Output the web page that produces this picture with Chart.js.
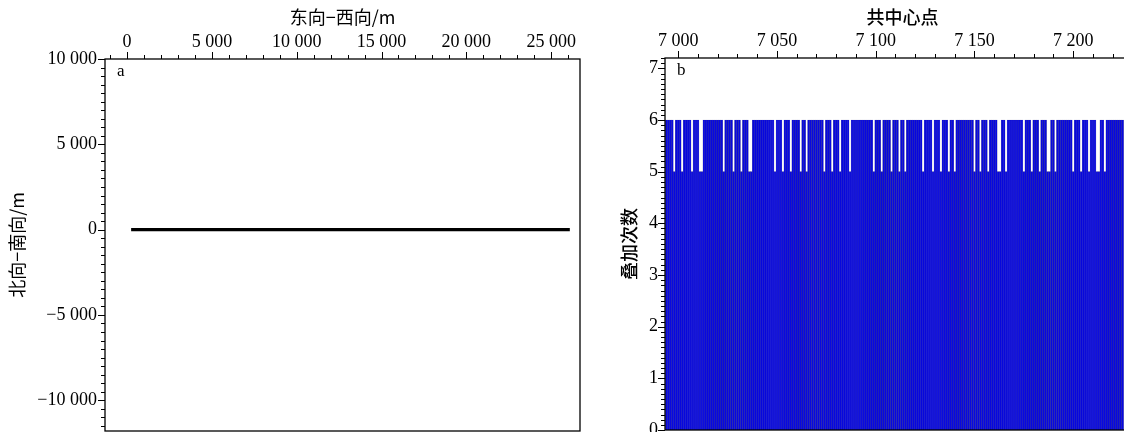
<!DOCTYPE html>
<html>
<head>
<meta charset="utf-8">
<script src="https://cdn.jsdelivr.net/npm/chart.js@4.4.1/dist/chart.umd.min.js"></script>
<style>
  html, body { margin: 0; padding: 0; background: #fff; overflow: hidden; }
  body { width: 1124px; height: 432px; position: relative; }
  .panel { position: absolute; top: 0; height: 432px; }
  #wrapA { left: 0; width: 600px; }
  #wrapB { left: 590px; width: 560px; }
</style>
</head>
<body>
<div class="panel" id="wrapA"><canvas id="chartA" width="600" height="432"></canvas></div>
<div class="panel" id="wrapB"><canvas id="chartB" width="560" height="432"></canvas></div>
<script>
// Panel a: survey line in plan view (east-west vs north-south, metres)
const lineEastWest = [240, 26100];
const lineNorthSouth = [0, 0];
const eastWestTicks = [0, 5000, 10000, 15000, 20000, 25000];
const northSouthTicks = [-10000, -5000, 0, 5000, 10000];

// Panel b: fold (stack count) per common midpoint
const firstMidpoint = 6994;
const foldCount = [
  6,6,6,6,5,6,6,6,5,6,
  6,6,6,5,6,6,6,5,5,6,
  6,6,6,6,6,6,6,6,6,5,
  6,6,6,6,5,6,6,6,5,6,
  6,6,5,5,6,6,6,6,6,6,
  6,6,6,6,6,5,6,6,6,5,
  6,6,6,5,6,6,6,6,5,6,
  6,5,6,6,6,6,6,6,6,6,
  5,6,6,6,5,6,6,6,5,6,
  6,6,6,5,6,6,6,6,6,6,
  6,6,6,6,6,5,6,6,6,5,
  6,6,6,6,5,6,6,6,5,6,
  6,5,6,6,6,6,6,6,6,6,
  5,6,6,6,6,5,6,6,6,5,
  6,6,6,5,6,6,5,6,6,6,
  6,6,6,6,6,6,5,6,6,5,
  6,6,6,5,6,6,6,6,5,5,
  6,6,5,6,6,6,6,6,6,6,
  6,5,6,6,6,5,6,6,6,5,
  6,6,6,5,5,6,6,5,6,6,
  6,6,6,6,6,6,5,6,6,6,
  5,6,6,6,5,6,6,6,5,5,
  6,6,5,6,6,6,6,6,6,6,
  6,6
];
const midpointTicks = [7000, 7050, 7100, 7150, 7200];
const foldTicks = [0, 1, 2, 3, 4, 5, 6, 7];

const midpoints = foldCount.map((_, i) => firstMidpoint + i);

const SERIF = "'Liberation Serif', 'Times New Roman', serif";
const CJK = "'Noto Sans CJK SC', 'Liberation Serif', serif";

function fmtNum(v) {
  const s = Math.abs(v).toString().replace(/\B(?=(\d{3})+(?!\d))/g, ' ');
  return (v < 0 ? '\u2212' : '') + s;
}

// Frame, outward major/minor tick marks and the panel letter
const framePlugin = {
  id: 'frame',
  afterDatasetsDraw(chart, args, opts) {
    const { ctx, chartArea: a } = chart;
    const xs = chart.scales.x, ys = chart.scales.y;
    ctx.save();
    ctx.strokeStyle = '#000';
    ctx.lineWidth = 1.3;
    ctx.strokeRect(a.left, a.top, a.right - a.left, a.bottom - a.top);
    ctx.lineWidth = 1;
    ctx.beginPath();
    const eps = 1e-6;
    for (let v = Math.ceil(xs.min / opts.xMinor) * opts.xMinor; v <= xs.max + eps; v += opts.xMinor) {
      const p = Math.round(xs.getPixelForValue(v)) + 0.5;
      const major = Math.abs(v / opts.xMajor - Math.round(v / opts.xMajor)) < 1e-6;
      const len = major ? 7 : 4;
      ctx.moveTo(p, a.top);
      ctx.lineTo(p, a.top - len);
    }
    for (let v = Math.ceil(ys.min / opts.yMinor) * opts.yMinor; v <= ys.max + eps; v += opts.yMinor) {
      const p = Math.round(ys.getPixelForValue(v)) + 0.5;
      const major = Math.abs(v / opts.yMajor - Math.round(v / opts.yMajor)) < 1e-6;
      const len = major ? 7 : 4;
      ctx.moveTo(a.left, p);
      ctx.lineTo(a.left - len, p);
    }
    ctx.stroke();
    ctx.fillStyle = '#000';
    ctx.font = '17px ' + SERIF;
    ctx.textBaseline = 'top';
    ctx.fillText(opts.letter, a.left + 12, a.top + 4);
    ctx.restore();
  }
};

function fixedTicks(list) {
  return function (axis) {
    axis.ticks = list.map(v => ({ value: v }));
  };
}
function fitHeight(h) {
  return function (s) { s.height = h; s.paddingLeft = 0; s.paddingRight = 0; s.paddingTop = 0; s.paddingBottom = 0; };
}
function fitWidth(w) {
  return function (s) { s.width = w; s.paddingLeft = 0; s.paddingRight = 0; s.paddingTop = 0; s.paddingBottom = 0; };
}

const chartA = new Chart(document.getElementById('chartA'), {
  type: 'line',
  data: {
    datasets: [{
      data: lineEastWest.map((x, i) => ({ x, y: lineNorthSouth[i] })),
      borderColor: '#000',
      borderWidth: 3.2,
      pointRadius: 0,
      fill: false
    }]
  },
  options: {
    responsive: false,
    animation: false,
    layout: { padding: { left: 0, right: 20, top: 0, bottom: 1 } },
    plugins: {
      legend: { display: false },
      tooltip: { enabled: false },
      frame: { letter: 'a', xMajor: 5000, xMinor: 1000, yMajor: 5000, yMinor: 500 }
    },
    scales: {
      x: {
        type: 'linear',
        position: 'top',
        min: -1300, max: 26700,
        afterBuildTicks: fixedTicks(eastWestTicks),
        afterFit: fitHeight(59),
        grid: { display: false, drawTicks: false },
        border: { display: false },
        ticks: { callback: fmtNum, color: '#000', padding: 6, maxRotation: 0, autoSkip: false, font: { family: SERIF, size: 18 } },
        title: { display: true, text: '东向−西向/m', color: '#000', padding: { top: 6, bottom: 0 }, font: { family: CJK, size: 18 } }
      },
      y: {
        type: 'linear',
        min: -11800, max: 10000,
        afterBuildTicks: fixedTicks(northSouthTicks),
        afterFit: fitWidth(105),
        grid: { display: false, drawTicks: false },
        border: { display: false },
        ticks: { callback: fmtNum, color: '#000', padding: 8, autoSkip: false, font: { family: SERIF, size: 18 } },
        title: { display: true, text: '北向−南向/m', color: '#000', padding: { top: 6, bottom: 0 }, font: { family: CJK, size: 18 } }
      }
    }
  },
  plugins: [framePlugin]
});

const chartB = new Chart(document.getElementById('chartB'), {
  type: 'bar',
  data: {
    datasets: [{
      data: midpoints.map((x, i) => ({ x, y: foldCount[i] })),
      backgroundColor: '#0808e0',
      borderColor: 'rgba(0,0,100,0.6)',
      borderWidth: 0.45,
      borderSkipped: 'bottom',
      barPercentage: 1,
      categoryPercentage: 1
    }]
  },
  options: {
    responsive: false,
    animation: false,
    layout: { padding: { left: 0, right: 10, top: 0, bottom: 2 } },
    plugins: {
      legend: { display: false },
      tooltip: { enabled: false },
      frame: { letter: 'b', xMajor: 50, xMinor: 10, yMajor: 1, yMinor: 0.1 }
    },
    scales: {
      x: {
        type: 'linear',
        position: 'top',
        offset: false,
        min: 6993.3, max: 7233.8,
        afterBuildTicks: fixedTicks(midpointTicks),
        afterFit: fitHeight(58),
        grid: { display: false, drawTicks: false },
        border: { display: false },
        ticks: { callback: fmtNum, color: '#000', padding: 6, maxRotation: 0, autoSkip: false, font: { family: SERIF, size: 18 } },
        title: { display: true, text: '共中心点', color: '#000', padding: { top: 6, bottom: 0 }, font: { family: CJK, size: 18, weight: '500' } }
      },
      y: {
        type: 'linear',
        min: 0, max: 7.2,
        afterBuildTicks: fixedTicks(foldTicks),
        afterFit: fitWidth(75),
        grid: { display: false, drawTicks: false },
        border: { display: false },
        ticks: { callback: v => String(v), color: '#000', padding: 7, autoSkip: false, font: { family: SERIF, size: 18 } },
        title: { display: true, text: '叠加次数', color: '#000', padding: { top: 28, bottom: 0 }, font: { family: CJK, size: 18, weight: '500' } }
      }
    }
  },
  plugins: [framePlugin]
});
</script>
</body>
</html>
